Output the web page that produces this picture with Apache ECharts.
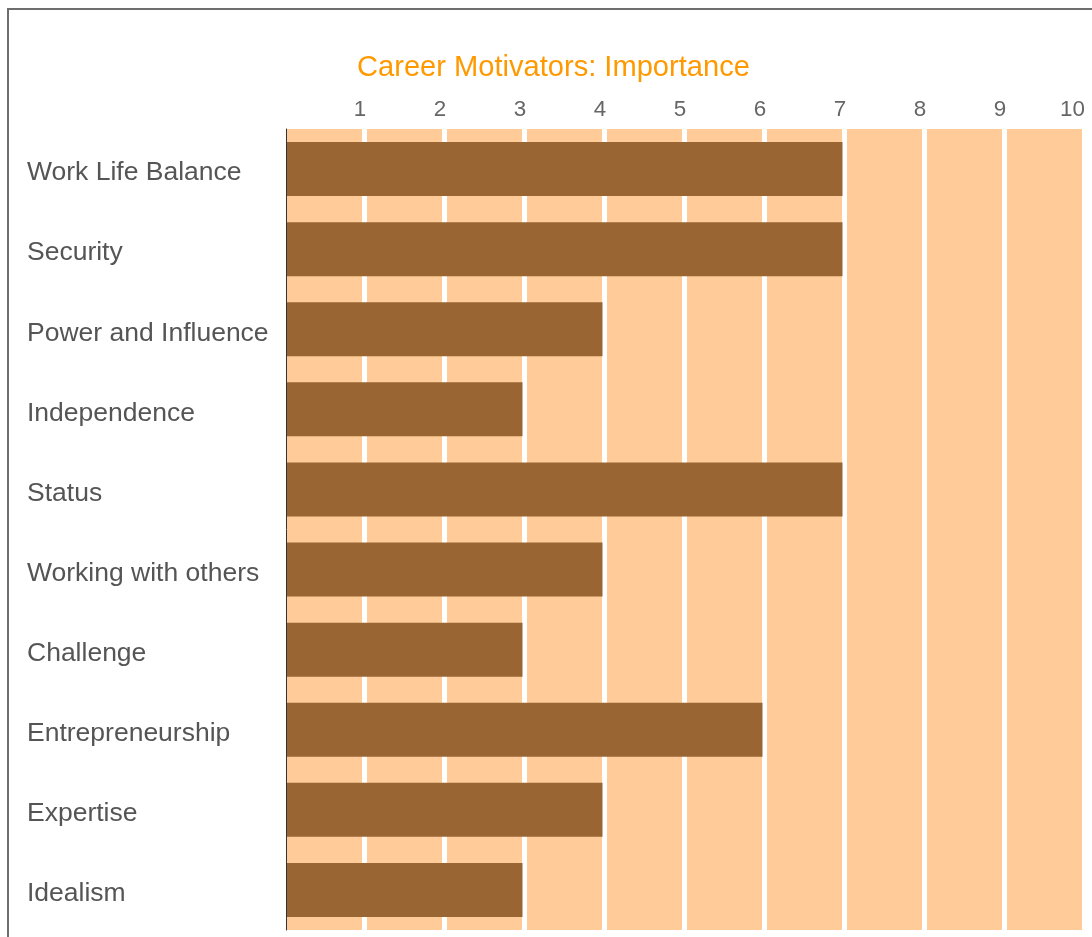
<!DOCTYPE html>
<html>
<head>
<meta charset="utf-8">
<script src="https://cdn.jsdelivr.net/npm/echarts@6/dist/echarts.min.js"></script>
<style>
html,body{margin:0;padding:0;background:#fff;}
#chart{width:1092px;height:937px;}
</style>
</head>
<body>
<div id="chart"></div>
<script>
const categories = ["Work Life Balance","Security","Power and Influence","Independence","Status","Working with others","Challenge","Entrepreneurship","Expertise","Idealism"];
const importance = [7,7,4,3,7,4,3,6,4,3];
const titleText = "Career Motivators: Importance";

const chart = echarts.init(document.getElementById('chart'), null, {renderer:'canvas'});
const FONT = '"Liberation Sans", Arial, sans-serif';
const tickStyle = {color:'#666666', fontSize:22.4, fontFamily:FONT};
chart.setOption({
  animation:false,
  backgroundColor:'#ffffff',
  title:{
    text:titleText,
    left:357, top:53,
    padding:0,
    textStyle:{color:'#FF9900', fontSize:29.1, fontWeight:'normal', fontFamily:FONT}
  },
  graphic:[{
    type:'rect', silent:true, z:100,
    shape:{x:8, y:9, width:1200, height:1000},
    style:{fill:'none', stroke:'#6e6e6e', lineWidth:2}
  }],
  grid:[
    {left:287, top:129, width:795.5, height:801},
    {left:284.5, top:129, width:800, height:801}
  ],
  xAxis:[
    {gridIndex:0, type:'value', min:0.05625, max:10, show:false},
    {gridIndex:1, type:'value', min:0, max:10, interval:1, position:'top',
     axisLine:{show:false}, axisTick:{show:false},
     axisLabel:{show:true, margin:8, align:'center', color:'#666666', fontSize:22.4, fontFamily:FONT,
       formatter:function(v){ if(v===0) return ''; return v===10 ? '{m|'+v+'}' : '{n|'+v+'}'; },
       rich:{
         n:Object.assign({padding:[0,9,0,0]}, tickStyle),
         m:Object.assign({padding:[0,24,0,0]}, tickStyle)
       }},
     splitLine:{show:true, lineStyle:{color:'#ffffff', width:5}},
     splitArea:{show:true, areaStyle:{color:['#FFCC99','#FFCC99']}}
    }
  ],
  yAxis:[
    {gridIndex:0, type:'category', data:categories, inverse:true, offset:1,
     axisLine:{show:true, lineStyle:{color:'#333333', width:1}},
     axisTick:{show:false},
     axisLabel:{margin:259, align:'left', color:'#555555', fontSize:26.5, fontFamily:FONT,
       formatter:function(v){ return '{c|'+v+'}'; },
       rich:{c:{color:'#555555', fontSize:26.5, fontFamily:FONT, padding:[8,0,0,0]}}},
     splitLine:{show:false}
    },
    {gridIndex:1, type:'value', show:false}
  ],
  series:[{
    type:'bar', xAxisIndex:0, yAxisIndex:0,
    data:importance, barWidth:54,
    itemStyle:{color:'#996633'},
    z:3
  }]
});
</script>
</body>
</html>
